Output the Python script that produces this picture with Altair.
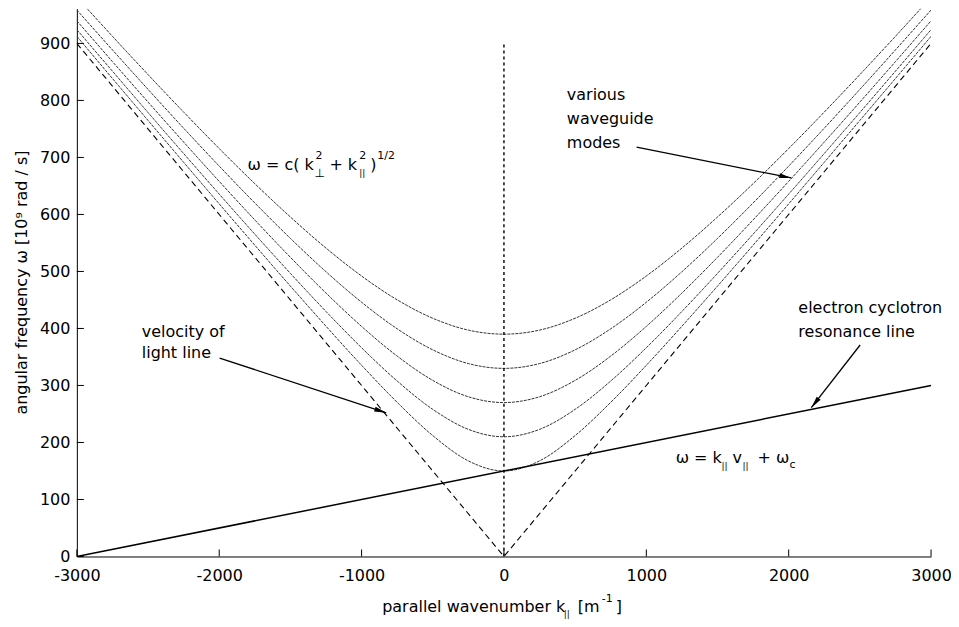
import altair as alt
import pandas as pd
import numpy as np

# ---------------- data ----------------
k_vals = [-3000, -2750, -2500, -2250, -2000, -1750, -1500, -1250, -1000, -750, -500, -250,
          0, 250, 500, 750, 1000, 1250, 1500, 1750, 2000, 2250, 2500, 2750, 3000]

mode_150 = [912.4, 838.5, 764.9, 691.5, 618.5, 546.0, 474.3, 403.9, 335.4, 270.4, 212.1, 167.7,
            150.0, 167.7, 212.1, 270.4, 335.4, 403.9, 474.3, 546.0, 618.5, 691.5, 764.9, 838.5, 912.4]
mode_210 = [924.2, 851.3, 778.8, 706.9, 635.7, 565.4, 496.6, 429.8, 366.2, 307.8, 258.1, 223.0,
            210.0, 223.0, 258.1, 307.8, 366.2, 429.8, 496.6, 565.4, 635.7, 706.9, 778.8, 851.3, 924.2]
mode_270 = [939.6, 868.1, 797.1, 727.0, 658.0, 590.4, 524.8, 462.1, 403.6, 351.5, 308.9, 280.2,
            270.0, 280.2, 308.9, 351.5, 403.6, 462.1, 524.8, 590.4, 658.0, 727.0, 797.1, 868.1, 939.6]
mode_330 = [958.6, 888.6, 819.4, 751.3, 684.8, 620.1, 558.0, 499.5, 446.0, 399.4, 362.5, 338.4,
            330.0, 338.4, 362.5, 399.4, 446.0, 499.5, 558.0, 620.1, 684.8, 751.3, 819.4, 888.6, 958.6]
mode_390 = [980.9, 912.5, 845.3, 779.6, 715.6, 654.0, 595.5, 541.0, 492.0, 450.2, 417.9, 397.1,
            390.0, 397.1, 417.9, 450.2, 492.0, 541.0, 595.5, 654.0, 715.6, 779.6, 845.3, 912.5, 980.9]

light_k = [-3000, 0, 3000]
light_w = [900, 0, 900]

ecr_k = [-3000, 3000]
ecr_w = [0, 300]

vert_k = [0, 0]
vert_w = [0, 900]

x_ticks = [-3000, -2000, -1000, 0, 1000, 2000, 3000]
y_ticks = [0, 100, 200, 300, 400, 500, 600, 700, 800, 900]

# text annotations (left-aligned, data coords)
note_text = ["various", "waveguide", "modes", "velocity of", "light line",
             "electron cyclotron", "resonance line"]
note_k = [442, 442, 442, -2544, -2544, 2068, 2068]
note_w = [809, 767, 725, 394, 357, 436, 394]

# arrows: start -> tip
arrow_k0 = [932, -1997, 2502]
arrow_w0 = [718, 348, 371]
arrow_k1 = [2018, -827, 2159]
arrow_w1 = [664, 252, 261]

# formula pieces: (text, dx, dy, size)
f1_anchor = (-1801, 686)
f1_text = ["ω = c( k", "2", "⊥", "+ k", "2", "||", ")", "1/2"]
f1_dx = [0, 68, 67, 82, 112, 112, 123, 130]
f1_dy = [0, -9, 8, 0, -9, 8, 0, -9]
f1_sz = [16, 11, 12, 16, 11, 9, 16, 11]

f2_anchor = (1206, 172)
f2_text = ["ω = k", "||", "v", "||", "+ ω", "c"]
f2_dx = [0, 46, 57, 67, 82, 114]
f2_dy = [0, 8, 0, 8, 0, 7]
f2_sz = [16, 9, 16, 9, 16, 11]

# ---------------- layout ----------------
W, H = 856, 549
YMAX = 961
FONT = "DejaVu Sans"

xs = alt.Scale(domain=[-3000, 3000], nice=False, zero=False)
ys = alt.Scale(domain=[0, YMAX], nice=False, zero=False)

modes = pd.DataFrame({
    "k": k_vals * 5,
    "w": mode_150 + mode_210 + mode_270 + mode_330 + mode_390,
    "m": sum([[c] * len(k_vals) for c in ["150", "210", "270", "330", "390"]], []),
})

xaxis = alt.Axis(values=x_ticks, ticks=False, grid=False, title=None, labelFont=FONT,
                 labelFontSize=16, labelColor="black", labelPadding=11, domainColor="black",
                 domainWidth=1, labelFlush=False, labelExpr="'' + datum.value")
yaxis = alt.Axis(values=y_ticks, ticks=False, grid=False, title=None, labelFont=FONT,
                 labelFontSize=16, labelColor="black", labelPadding=7, domainColor="black",
                 domainWidth=1, labelFlush=False, labelExpr="'' + datum.value")

mode_layer = alt.Chart(modes).mark_line(
    color="#333333", strokeWidth=1, strokeDash=[3, 1], interpolate="monotone", clip=True
).encode(
    x=alt.X("k:Q", scale=xs, axis=xaxis),
    y=alt.Y("w:Q", scale=ys, axis=yaxis),
    detail="m:N",
)

light_layer = alt.Chart(pd.DataFrame({"k": light_k, "w": light_w})).mark_line(
    color="black", strokeWidth=1.1, strokeDash=[6, 4], clip=True
).encode(x=alt.X("k:Q", scale=xs), y=alt.Y("w:Q", scale=ys))

vert_layer = alt.Chart(pd.DataFrame({"k": vert_k, "w": vert_w})).mark_line(
    color="black", strokeWidth=1.4, strokeDash=[3, 3], clip=True
).encode(x=alt.X("k:Q", scale=xs), y=alt.Y("w:Q", scale=ys))

ecr_layer = alt.Chart(pd.DataFrame({"k": ecr_k, "w": ecr_w})).mark_line(
    color="black", strokeWidth=1.5, clip=True
).encode(x=alt.X("k:Q", scale=xs), y=alt.Y("w:Q", scale=ys))

# inward tick marks
ytick_layer = alt.Chart(pd.DataFrame({"w": y_ticks})).mark_rule(color="black", strokeWidth=1).encode(
    y=alt.Y("w:Q", scale=ys), x=alt.value(0), x2=alt.value(7))
xtick_layer = alt.Chart(pd.DataFrame({"k": x_ticks})).mark_rule(color="black", strokeWidth=1).encode(
    x=alt.X("k:Q", scale=xs), y=alt.value(H), y2=alt.value(H - 7))

# arrows
px_x = W / 6000.0
px_y = H / YMAX
ang = []
for a0, b0, a1, b1 in zip(arrow_k0, arrow_w0, arrow_k1, arrow_w1):
    dxp = (a1 - a0) * px_x
    dyp = -(b1 - b0) * px_y
    ang.append(float(np.degrees(np.arctan2(dxp, -dyp)) % 360))
arrows = pd.DataFrame({"k0": arrow_k0, "w0": arrow_w0, "k1": arrow_k1, "w1": arrow_w1, "ang": ang})

arrow_lines = alt.Chart(arrows).mark_rule(color="black", strokeWidth=1.3).encode(
    x=alt.X("k0:Q", scale=xs), y=alt.Y("w0:Q", scale=ys), x2="k1:Q", y2="w1:Q")
arrow_heads = alt.Chart(arrows).mark_point(
    shape="M0,0L-0.5,2.4L0.5,2.4Z", filled=True, color="black", size=100, opacity=1
).encode(x=alt.X("k1:Q", scale=xs), y=alt.Y("w1:Q", scale=ys), angle=alt.Angle("ang:Q", scale=None))

notes = alt.Chart(pd.DataFrame({"t": note_text, "k": note_k, "w": note_w})).mark_text(
    align="left", baseline="middle", font=FONT, fontSize=16, color="black"
).encode(x=alt.X("k:Q", scale=xs), y=alt.Y("w:Q", scale=ys), text="t:N")


def formula(anchor, texts, dxs, dys, sizes):
    layers = []
    for t, dx, dy, sz in zip(texts, dxs, dys, sizes):
        layers.append(
            alt.Chart(pd.DataFrame({"t": [t], "k": [anchor[0]], "w": [anchor[1]]})).mark_text(
                align="left", baseline="middle", font=FONT, fontSize=sz, color="black",
                dx=dx, dy=dy
            ).encode(x=alt.X("k:Q", scale=xs), y=alt.Y("w:Q", scale=ys), text="t:N")
        )
    return layers


f1_layers = formula(f1_anchor, f1_text, f1_dx, f1_dy, f1_sz)
f2_layers = formula(f2_anchor, f2_text, f2_dx, f2_dy, f2_sz)

# axis titles
xt_text = ["parallel wavenumber k", "||", "[m", "-1", "]"]
xt_dx = [0, 182, 196, 220, 234]
xt_dy = [0, 7, 0, -8, 0]
xt_sz = [16, 9, 16, 11, 16]
xt_layers = []
for t, dx, dy, sz in zip(xt_text, xt_dx, xt_dy, xt_sz):
    xt_layers.append(
        alt.Chart(pd.DataFrame({"t": [t]})).mark_text(
            align="left", baseline="middle", font=FONT, fontSize=sz, color="black",
            dx=dx, dy=dy
        ).encode(x=alt.value(306), y=alt.value(H + 51), text="t:N")
    )

yt_layer = alt.Chart(pd.DataFrame({"t": ["angular frequency ω [10⁹ rad / s]"]})).mark_text(
    align="center", baseline="middle", font=FONT, fontSize=16, color="black", angle=270
).encode(x=alt.value(-55), y=alt.value(H / 2), text="t:N")

chart = alt.layer(
    mode_layer, light_layer, vert_layer, ecr_layer, ytick_layer, xtick_layer,
    arrow_lines, arrow_heads, notes, *f1_layers, *f2_layers, *xt_layers, yt_layer
).properties(
    width=W, height=H,
    autosize=alt.AutoSizeParams(type="none"),
    padding={"left": 69, "top": 0, "right": 20, "bottom": 66},
    background="white",
).configure_view(stroke=None)

chart.save("out.html", embed_options={"renderer": "svg", "actions": False})
